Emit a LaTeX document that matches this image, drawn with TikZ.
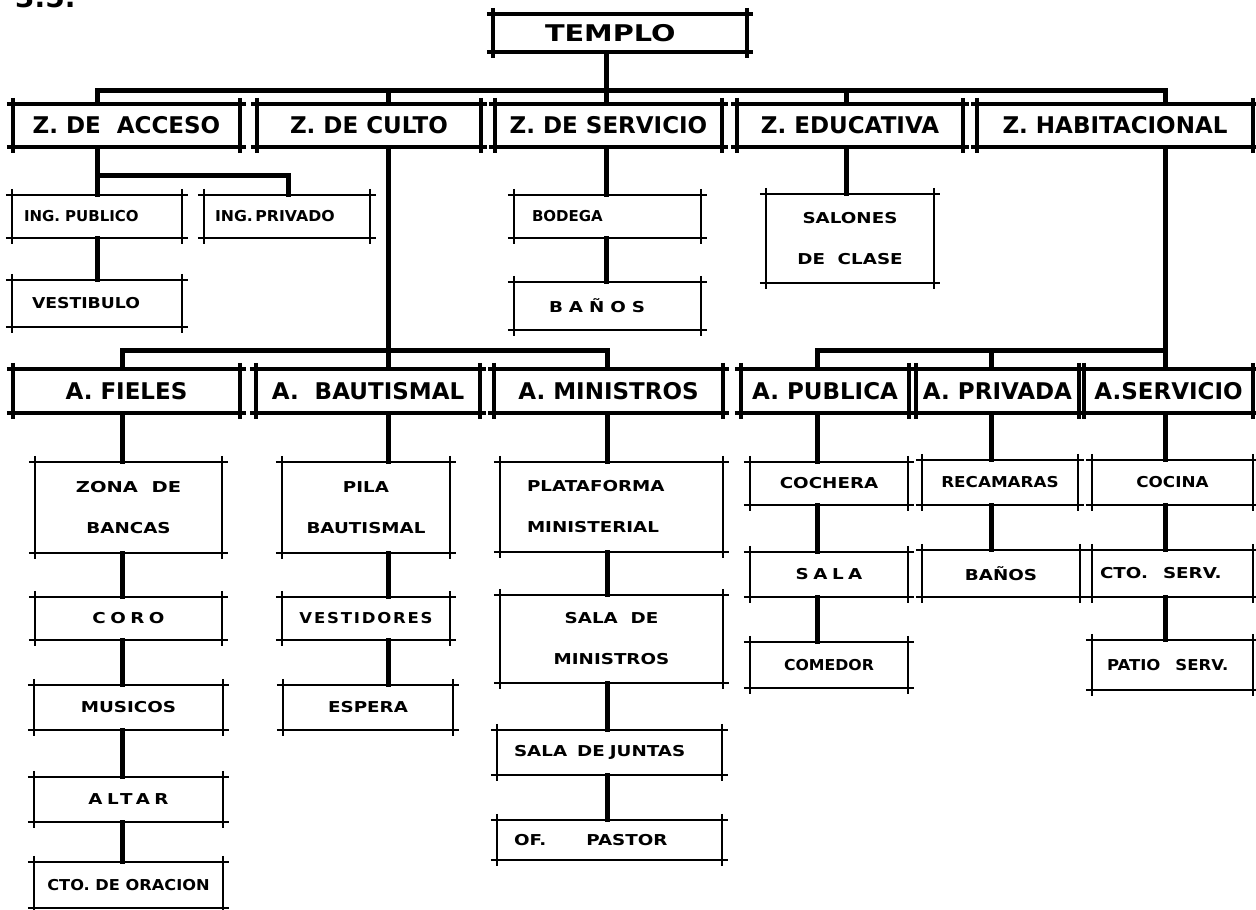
\documentclass[tikz,border=0pt]{standalone}
\usepackage{fontspec}
\setmainfont{DejaVu Sans}
\newfontfamily\lblfont[FakeStretch=1.22]{DejaVu Sans}
\newcommand\strch[1]{\addfontfeature{FakeStretch=#1}}
\tikzset{
  zonebox/.style={inner sep=0pt, font=\fontsize{23}{27}\selectfont\bfseries},
  zoneframe/.style={line width=4.5pt},
  subbox/.style={inner sep=0pt, align=center, font=\lblfont\bfseries\fontsize{15}{41}\selectfont},
  subframe/.style={line width=1.8pt},
  conn/.style={line width=5pt, line cap=rect},
  numtitle/.style={anchor=base west, inner sep=0pt, font=\fontsize{28}{30}\selectfont\bfseries}
}
% #1 name, #2 x1, #3 y1, #4 x2, #5 y2, #6 kind, #7 options, #8 text
\newcommand\bx[8]{%
  \node[#6box, minimum width={(#4-#2)*1pt}, minimum height={(#5-#3)*1pt}, #7] (#1) at ({(#2+#4)/2},{(#3+#5)/2}) {#8};
  \draw[#6frame] ([xshift=-6pt]#1.north west) -- ([xshift=6pt]#1.north east)
                 ([xshift=-6pt]#1.south west) -- ([xshift=6pt]#1.south east)
                 ([yshift=6pt]#1.north west) -- ([yshift=-6pt]#1.south west)
                 ([yshift=6pt]#1.north east) -- ([yshift=-6pt]#1.south east);
}
\begin{document}
\begin{tikzpicture}[x=1pt,y=-1pt]
\useasboundingbox (0,0) rectangle (1256,910);
\fill[white] (0,0) rectangle (1256,910);
\node[numtitle] (num) at (15,7) {3.5.};

% zones
\bx{templo}{493}{14}{747}{52}{zone}{align=left,text width=150pt}{\scalebox{1.25}[1]{TEMPLO}}
\bx{acceso}{13}{104}{240}{147}{zone}{}{Z.~DE~~ACCESO}
\bx{culto}{257}{104}{481}{147}{zone}{}{Z. DE CULTO}
\bx{servicio}{495}{104}{722}{147}{zone}{}{Z. DE SERVICIO}
\bx{educ}{737}{104}{963}{147}{zone}{}{Z. EDUCATIVA}
\bx{habit}{977}{104}{1253}{147}{zone}{}{Z. HABITACIONAL}

% upper sub boxes
\bx{ingpub}{12}{195}{182}{238}{sub}{align=left,text width=146pt}{\strch{1.0}ING. PUBLICO}
\bx{ingpriv}{204}{195}{370}{238}{sub}{align=left,text width=144pt}{\strch{1.05}ING.\,PRIVADO}
\bx{vestibulo}{12}{280}{182}{327}{sub}{align=left,text width=130pt}{\strch{1.15}VESTIBULO}
\bx{bodega}{514}{195}{701}{238}{sub}{align=left,text width=151pt}{\strch{1.0}BODEGA}
\bx{banos}{514}{282}{701}{330}{sub}{align=left,text width=117pt}{\addfontfeature{LetterSpace=40}BAÑOS}
\bx{salones}{766}{194}{934}{283}{sub}{}{SALONES\\DE~~CLASE}

% areas
\bx{fieles}{13}{369}{240}{413}{zone}{}{A. FIELES}
\bx{bautismal}{256}{369}{480}{413}{zone}{}{A.~~BAUTISMAL}
\bx{ministros}{494}{369}{723}{413}{zone}{}{A. MINISTROS}
\bx{publica}{741}{369}{909}{413}{zone}{}{A. PUBLICA}
\bx{privada}{916}{369}{1079}{413}{zone}{}{A. PRIVADA}
\bx{aserv}{1084}{369}{1253}{413}{zone}{}{A.SERVICIO}

% lower sub boxes
\bx{zona}{35}{462}{222}{553}{sub}{}{\strch{1.3}ZONA~~DE\\BANCAS}
\bx{pila}{282}{462}{450}{553}{sub}{}{PILA\\BAUTISMAL}
\bx{plataforma}{500}{462}{723}{552}{sub}{align=left,text width=169pt}{PLATAFORMA\\MINISTERIAL}
\bx{cochera}{750}{462}{908}{505}{sub}{}{COCHERA}
\bx{recamaras}{922}{460}{1078}{505}{sub}{}{\strch{1.12}RECAMARAS}
\bx{cocina}{1092}{460}{1253}{505}{sub}{}{\strch{1.12}COCINA}
\bx{coro}{35}{597}{222}{640}{sub}{}{\addfontfeature{LetterSpace=30}CORO}
\bx{vestidores}{282}{597}{450}{640}{sub}{}{\strch{1.1}\addfontfeature{LetterSpace=12}VESTIDORES}
\bx{salamin}{500}{595}{723}{683}{sub}{}{SALA~~DE\\MINISTROS}
\bx{sala}{750}{552}{908}{597}{sub}{}{\addfontfeature{LetterSpace=30}SALA}
\bx{banos2}{922}{550}{1080}{597}{sub}{}{BAÑOS}
\bx{ctoserv}{1092}{550}{1253}{597}{sub}{align=left,text width=145pt}{CTO.~~~SERV.}
\bx{musicos}{34}{685}{223}{730}{sub}{}{MUSICOS}
\bx{espera}{283}{685}{453}{730}{sub}{}{ESPERA}
\bx{comedor}{750}{642}{908}{688}{sub}{}{\strch{1.05}COMEDOR}
\bx{patio}{1092}{640}{1253}{690}{sub}{align=left,text width=131pt}{\strch{1.1}PATIO~~~SERV.}
\bx{altar}{34}{777}{223}{822}{sub}{}{\addfontfeature{LetterSpace=30}ALTAR}
\bx{juntas}{497}{730}{722}{775}{sub}{align=left,text width=191pt}{SALA~~DE~JUNTAS}
\bx{pastor}{497}{820}{722}{860}{sub}{align=left,text width=191pt}{OF.\hspace{40pt}PASTOR}
\bx{oracion}{34}{862}{223}{908}{sub}{}{\strch{1.08}CTO. DE ORACION}

% connector x positions and bus lines
\coordinate (xA) at (97,0);
\coordinate (xPv) at (288,0);
\coordinate (xC) at (388,0);
\coordinate (xT) at (606,0);
\coordinate (xEd) at (846,0);
\coordinate (xH) at (1165,0);
\coordinate (xF) at (122,0);
\coordinate (xM) at (607,0);
\coordinate (xPu) at (817,0);
\coordinate (xPr) at (991,0);
\coordinate (bus) at (0,90);
\coordinate (abus) at (0,175);
\coordinate (cbus) at (0,350);

% main bus
\draw[conn] (xA |- bus) -- (xH |- bus);
\draw[conn] (xT |- templo.south) -- (xT |- servicio.north);
\draw[conn] (xA |- bus) -- (xA |- acceso.north);
\draw[conn] (xC |- bus) -- (xC |- culto.north);
\draw[conn] (xEd |- bus) -- (xEd |- educ.north);
\draw[conn] (xH |- bus) -- (xH |- habit.north);

% acceso
\draw[conn] (xA |- acceso.south) -- (xA |- ingpub.north);
\draw[conn] (xA |- abus) -- (xPv |- abus) -- (xPv |- ingpriv.north);
\draw[conn] (xA |- ingpub.south) -- (xA |- vestibulo.north);

% culto
\draw[conn] (xC |- culto.south) -- (xC |- bautismal.north);
\draw[conn] (xF |- fieles.north) -- (xF |- cbus) -- (xM |- cbus) -- (xM |- ministros.north);

% servicio, educativa
\draw[conn] (xT |- servicio.south) -- (xT |- bodega.north);
\draw[conn] (xT |- bodega.south) -- (xT |- banos.north);
\draw[conn] (xEd |- educ.south) -- (xEd |- salones.north);

% habitacional
\draw[conn] (xH |- habit.south) -- (xH |- aserv.north);
\draw[conn] (xPu |- publica.north) -- (xPu |- cbus) -- (xH |- cbus);
\draw[conn] (xPr |- cbus) -- (xPr |- privada.north);

% chains
\foreach \xx/\a/\b in {xF/fieles/zona, xF/zona/coro, xF/coro/musicos, xF/musicos/altar, xF/altar/oracion,
  xC/bautismal/pila, xC/pila/vestidores, xC/vestidores/espera,
  xM/ministros/plataforma, xM/plataforma/salamin, xM/salamin/juntas, xM/juntas/pastor,
  xPu/publica/cochera, xPu/cochera/sala, xPu/sala/comedor,
  xPr/privada/recamaras, xPr/recamaras/banos2,
  xH/aserv/cocina, xH/cocina/ctoserv, xH/ctoserv/patio}
  \draw[conn] (\xx |- \a.south) -- (\xx |- \b.north);
\end{tikzpicture}
\end{document}
